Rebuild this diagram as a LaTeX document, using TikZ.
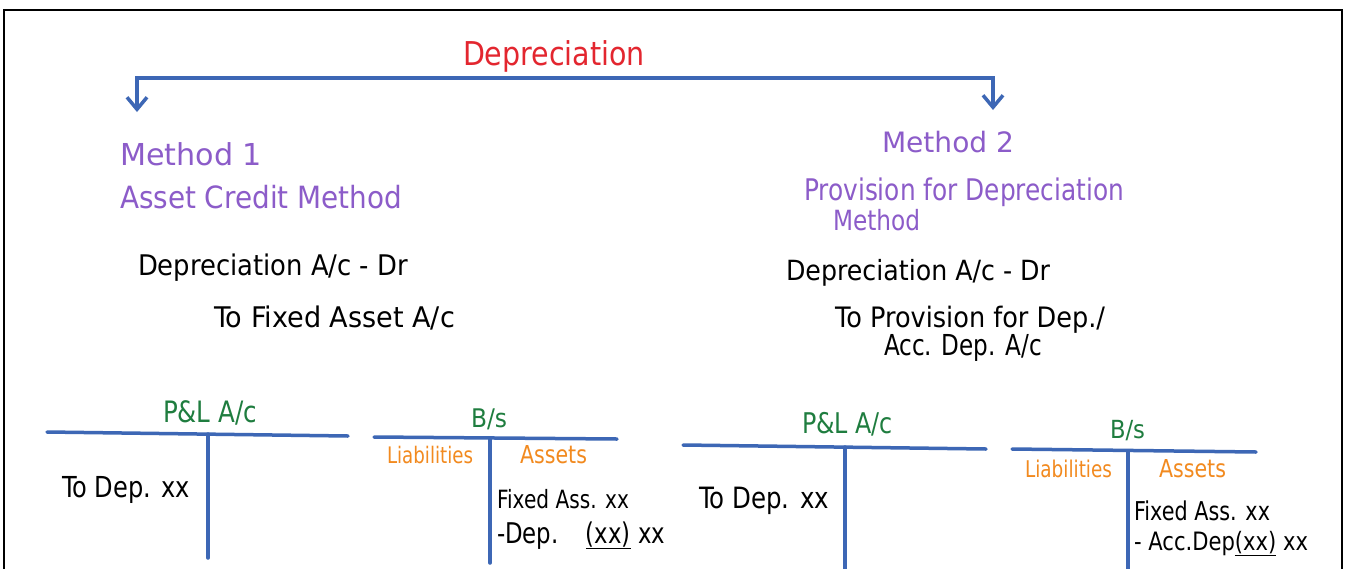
\documentclass[tikz,border=0pt]{standalone}
\usepackage{fontspec}
\setmainfont{DejaVu Sans}
\usetikzlibrary{arrows.meta}
\definecolor{cred}{HTML}{E3262F}
\definecolor{cpurple}{HTML}{8C5CC9}
\definecolor{cblue}{HTML}{3D67B5}
\definecolor{cgreen}{HTML}{1F7D3F}
\definecolor{corange}{HTML}{F28A1F}
\newcommand\fitw[3][1]{\scalebox{1}[#1]{\resizebox{#2pt}{!}{#3}}}
\tikzset{
  txt/.style={inner sep=0pt, outer sep=0pt, anchor=base west, font=\fontsize{20}{24}\selectfont},
  title/.style={txt, text=cred},
  meth/.style={txt, text=cpurple},
  entry/.style={txt, text=black},
  head/.style={txt, text=cgreen},
  side/.style={txt, text=corange},
  tline/.style={draw=cblue, line width=3.5pt, line cap=round},
  branch/.style={draw=cblue, line width=3.5pt, {Straight Barb[length=12pt,width=20pt]}-{Straight Barb[length=12pt,width=20pt]}},
  frame/.style={draw=black, line width=2.2pt}
}
\begin{document}
\begin{tikzpicture}[x=1pt,y=-1pt]
\clip (0,0) rectangle (1348,568);
\fill[white] (0,0) rectangle (1348,568);
\draw[frame] (4,620) -- (4,10) -- (1342,10) -- (1342,620);

% title and branches
\node[title] (dep) at (463,65) {\fitw[1.15]{182}{Depreciation}};
\coordinate (bl) at (137,78);
\coordinate (br) at (993,78);
\coordinate (t1) at (137,112);
\coordinate (t2) at (993,110);
\draw[branch] (t1) -- (bl) -- (br) -- (t2);

% method 1
\node[meth] (m1) at (120,165) {\fitw{142}{Method 1}};
\node[meth] (m1b) at (120,208) {\fitw[1.1]{282}{Asset Credit Method}};
\node[entry] (j1a) at (138,275) {\fitw[1.1]{270}{Depreciation A/c - Dr}};
\node[entry] (j1b) at (214,327) {\fitw[1.05]{241}{To Fixed Asset A/c}};

% method 2
\node[meth] (m2) at (882,152) {\fitw{132}{Method 2}};
\node[meth] (m2b) at (804,200) {\fitw[1.2]{320}{Provision for Depreciation}};
\node[meth] (m2c) at (833,230) {\fitw[1.2]{87}{Method}};
\node[entry] (j2a) at (786,280) {\fitw[1.1]{264}{Depreciation A/c - Dr}};
\node[entry] (j2b) at (835,327) {\fitw[1.1]{270}{To Provision for Dep./}};
\node[entry] (j2c) at (884,355) {\fitw[1.25]{158}{Acc. Dep. A/c}};

% T account 1: P&L
\node[head] (pl1) at (163,422) {\fitw[1.2]{94}{P\&L A/c}};
\coordinate (pl1l) at (47,432);
\coordinate (pl1r) at (348,436);
\coordinate (pl1t) at (208,434);
\coordinate (pl1b) at (208,558);
\draw[tline] (pl1l) -- (pl1r);
\draw[tline] (pl1t) -- (pl1b);
\node[entry] (pl1e) at (62,497) {\fitw[1.2]{128}{To Dep. xx}};

% T account 2: B/s
\node[head] (bs1) at (471,427) {\fitw[1.1]{36}{B/s}};
\coordinate (bs1l) at (374,437);
\coordinate (bs1r) at (617,439);
\coordinate (bs1t) at (490,438);
\coordinate (bs1b) at (490,563);
\draw[tline] (bs1l) -- (bs1r);
\draw[tline] (bs1t) -- (bs1b);
\node[side] (li1) at (387,463) {\fitw[1.25]{86}{Liabilities}};
\node[side] (as1) at (520,463) {\fitw[1.2]{67}{Assets}};
\node[entry] (fa1) at (497,508) {\fitw[1.25]{132}{Fixed Ass. xx}};
\node[entry] (dp1) at (497,543) {\fitw[1.25]{168}{-Dep.\hspace{1.2em}\underline{(xx)} xx}};

% T account 3: P&L
\node[head] (pl2) at (802,433) {\fitw[1.2]{91}{P\&L A/c}};
\coordinate (pl2l) at (683,445);
\coordinate (pl2r) at (986,449);
\coordinate (pl2t) at (845,447);
\coordinate (pl2b) at (845,600);
\draw[tline] (pl2l) -- (pl2r);
\draw[tline] (pl2t) -- (pl2b);
\node[entry] (pl2e) at (699,508) {\fitw[1.2]{130}{To Dep. xx}};

% T account 4: B/s
\node[head] (bs2) at (1110,438) {\fitw[1.1]{35}{B/s}};
\coordinate (bs2l) at (1012,449);
\coordinate (bs2r) at (1256,452);
\coordinate (bs2t) at (1128,451);
\coordinate (bs2b) at (1128,600);
\draw[tline] (bs2l) -- (bs2r);
\draw[tline] (bs2t) -- (bs2b);
\node[side] (li2) at (1025,477) {\fitw[1.25]{87}{Liabilities}};
\node[side] (as2) at (1159,477) {\fitw[1.2]{67}{Assets}};
\node[entry] (fa2) at (1134,520) {\fitw[1.25]{136}{Fixed Ass. xx}};
\node[entry] (dp2) at (1134,550) {\fitw[1.2]{174}{- Acc.Dep\underline{(xx)} xx}};
\end{tikzpicture}
\end{document}
